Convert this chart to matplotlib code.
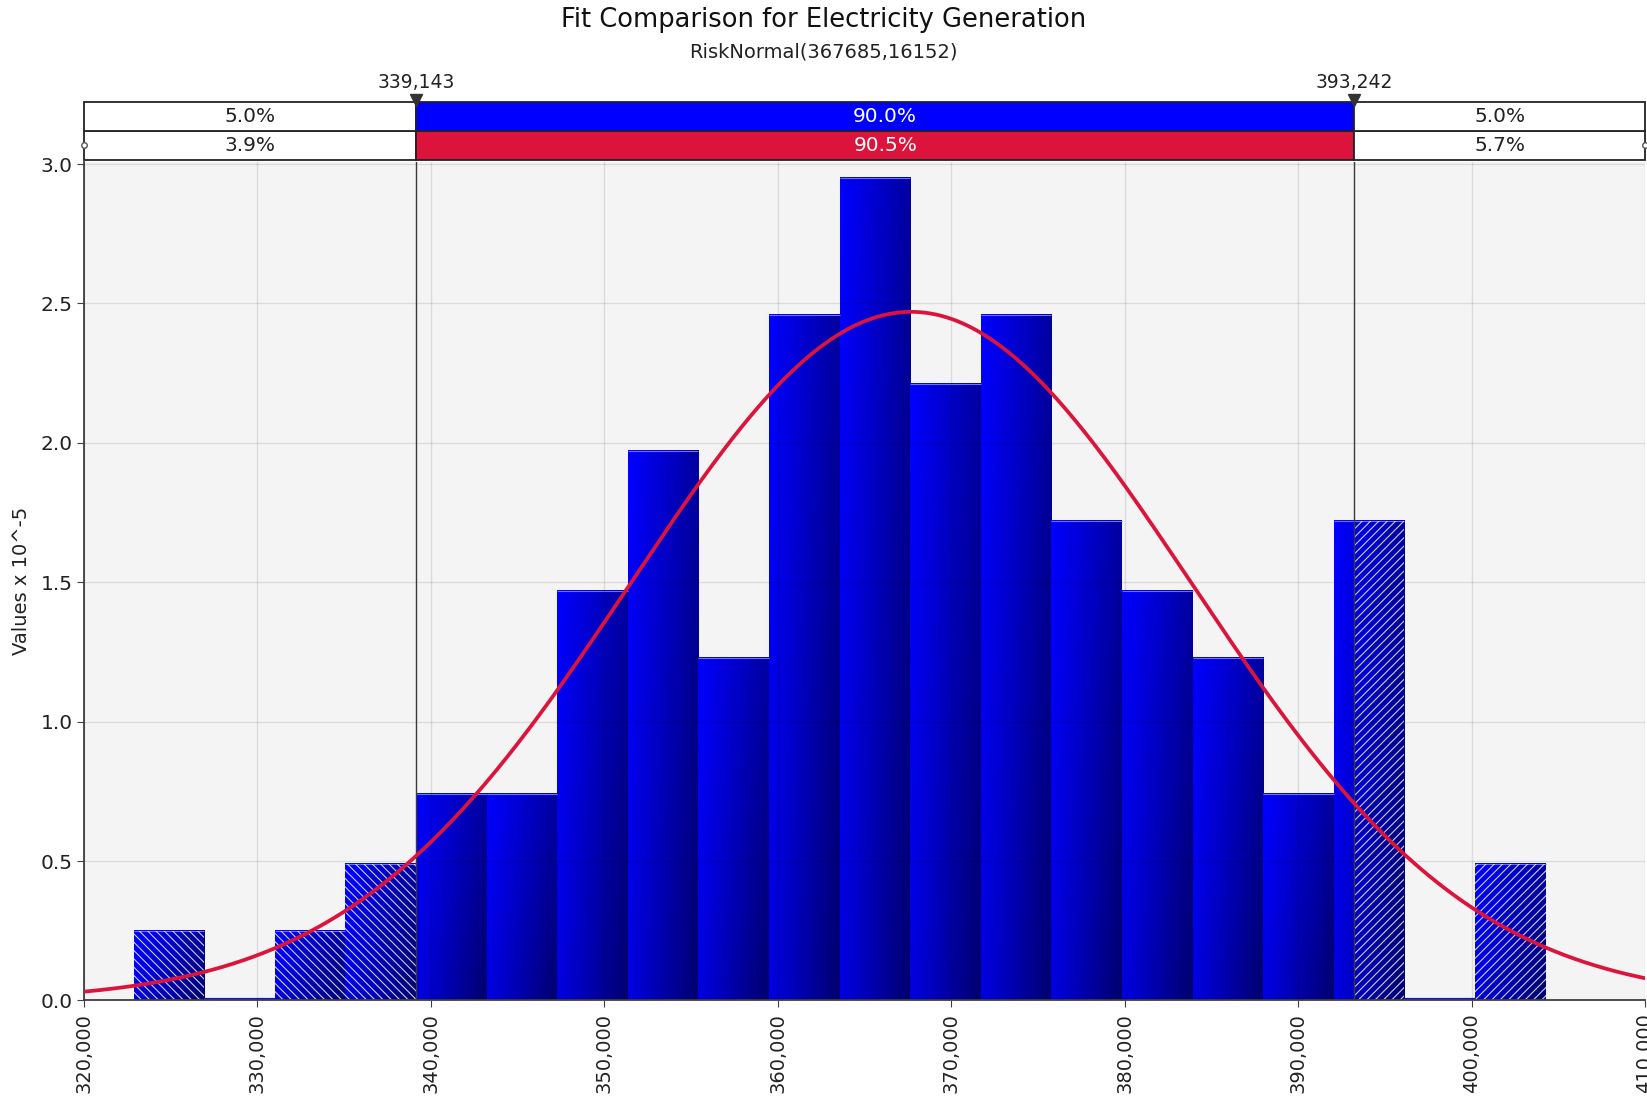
import numpy as np
import matplotlib
matplotlib.use("Agg")
import matplotlib.pyplot as plt
from matplotlib.patches import Rectangle
from matplotlib.ticker import FuncFormatter, MultipleLocator

# histogram (density, in units of 10^-5)
bin_start = 322863
bin_width = 4070
heights = [0.25, 0.0, 0.25, 0.49, 0.74, 0.74, 1.47, 1.97, 1.23, 2.46,
           2.95, 2.21, 2.46, 1.72, 1.47, 1.23, 0.74, 1.72, 0.0, 0.49]

# fitted distribution RiskNormal(mu, sigma)
mu = 367685
sigma = 16152

# delimiters and band percentages
lo_cut = 339143
hi_cut = 393242
lo_label = "339,143"
hi_label = "393,242"
fit_pct = ["5.0%", "90.0%", "5.0%"]
data_pct = ["3.9%", "90.5%", "5.7%"]

title = "Fit Comparison for Electricity Generation"
subtitle = "RiskNormal(367685,16152)"
ylabel = "Values x 10^-5"
xticks = list(range(320000, 410001, 10000))

plt.rcParams['font.family'] = ['DejaVu Sans']
plt.rcParams['hatch.linewidth'] = 0.8

fig = plt.figure(figsize=(16.47, 11.01), dpi=100)
ax = fig.add_axes([0.0510, 0.0913, 0.9478, 0.7620])
band = fig.add_axes([0.0510, 0.8547, 0.9478, 0.0530], sharex=ax)

ax.set_facecolor('#f4f4f4')
xmin, xmax = 320000, 410000


def grad_img(nx=40, ny=60):
    fx = np.linspace(0, 1, nx)[None, :]
    fy = np.linspace(0, 1, ny)[:, None]
    b = 255 - 95 * fx - 30 * fy - 20 * fx * fy
    img = np.zeros((ny, nx, 3))
    img[..., 2] = b / 255.0
    return img


for i, h in enumerate(heights):
    x0 = bin_start + i * bin_width
    x1 = x0 + bin_width
    if h <= 0:
        ax.hlines(0.006, x0, x1, color='#1010ff', lw=1.6, zorder=1.5)
        continue
    ax.imshow(grad_img(), extent=[x0, x1, 0, h], origin='upper',
              aspect='auto', zorder=1, interpolation='bilinear')
    ax.hlines(h, x0, x1, color='#7070ff', lw=0.8, zorder=1.2)
    # hatched tails outside the delimiters
    if x0 < lo_cut:
        xa, xb = x0, min(x1, lo_cut)
        ax.add_patch(Rectangle((xa, 0), xb - xa, h, facecolor='none',
                               edgecolor=(1, 1, 1, 0.8), lw=0,
                               hatch='\\\\\\\\', zorder=1.3))
    if x1 > hi_cut:
        xa, xb = max(x0, hi_cut), x1
        ax.add_patch(Rectangle((xa, 0), xb - xa, h, facecolor='none',
                               edgecolor=(1, 1, 1, 0.8), lw=0,
                               hatch='////', zorder=1.3))

# fitted normal density
xs = np.linspace(xmin, xmax, 600)
pdf = np.exp(-0.5 * ((xs - mu) / sigma) ** 2) / (sigma * np.sqrt(2 * np.pi)) * 1e5
ax.plot(xs, pdf, color='#dc143c', lw=2.7, zorder=4)

for c in (lo_cut, hi_cut):
    ax.axvline(c, color='#3a3a3a', lw=1.0, zorder=3)

ax.set_xlim(xmin, xmax)
ax.set_ylim(0, 3.009)
ax.set_xticks(xticks)
ax.xaxis.set_major_formatter(FuncFormatter(lambda v, p: f"{int(v):,}"))
ax.yaxis.set_major_locator(MultipleLocator(0.5))
ax.yaxis.set_major_formatter(FuncFormatter(lambda v, p: f"{v:.1f}"))
ax.tick_params(axis='x', labelrotation=90, labelsize=14, length=5,
               color='#404040', labelcolor='#222222', pad=4)
ax.tick_params(axis='y', labelsize=14.5, length=5, color='#404040',
               labelcolor='#222222', pad=3)
ax.grid(True, color='black', alpha=0.1, lw=1.0)
ax.set_axisbelow(False)
for s in ('top', 'right'):
    ax.spines[s].set_visible(False)
for s in ('left', 'bottom'):
    ax.spines[s].set_color('#404040')
    ax.spines[s].set_linewidth(1.3)
ax.set_ylabel(ylabel, fontsize=14, color='#222222', labelpad=7)

# percentage band above the plot
band.set_ylim(0, 2)
band.axis('off')
edges = [xmin, lo_cut, hi_cut, xmax]
for row, (labels, mid_color) in enumerate([(data_pct, '#dc143c'), (fit_pct, '#0000ff')]):
    for k in range(3):
        fc = mid_color if k == 1 else 'white'
        tc = 'white' if k == 1 else '#222222'
        band.add_patch(Rectangle((edges[k], row), edges[k + 1] - edges[k], 1,
                                 facecolor=fc, edgecolor='#222222', lw=1.3,
                                 clip_on=False))
        band.text((edges[k] + edges[k + 1]) / 2, row + 0.5, labels[k],
                  ha='center', va='center', fontsize=14.5, color=tc)
band.plot([lo_cut, hi_cut], [2.05, 2.05], 'v', color='#333333', ms=9,
          clip_on=False, zorder=5)
band.text(lo_cut, 2.65, lo_label, ha='center', va='center', fontsize=13.5,
          color='#222222')
band.text(hi_cut, 2.65, hi_label, ha='center', va='center', fontsize=13.5,
          color='#222222')
band.plot([xmin], [0.5], marker='o', ms=4, mfc='white', mec='#555555',
          clip_on=False, zorder=6)
band.plot([xmax], [0.5], marker='o', ms=4, mfc='white', mec='#555555',
          clip_on=False, zorder=6)

fig.text(0.5, 1 - 20 / 1101, title, ha='center', va='center', fontsize=18.5,
         color='#111111')
fig.text(0.5, 1 - 52 / 1101, subtitle, ha='center', va='center', fontsize=14,
         color='#222222')

fig.savefig("out.png", dpi=100)
